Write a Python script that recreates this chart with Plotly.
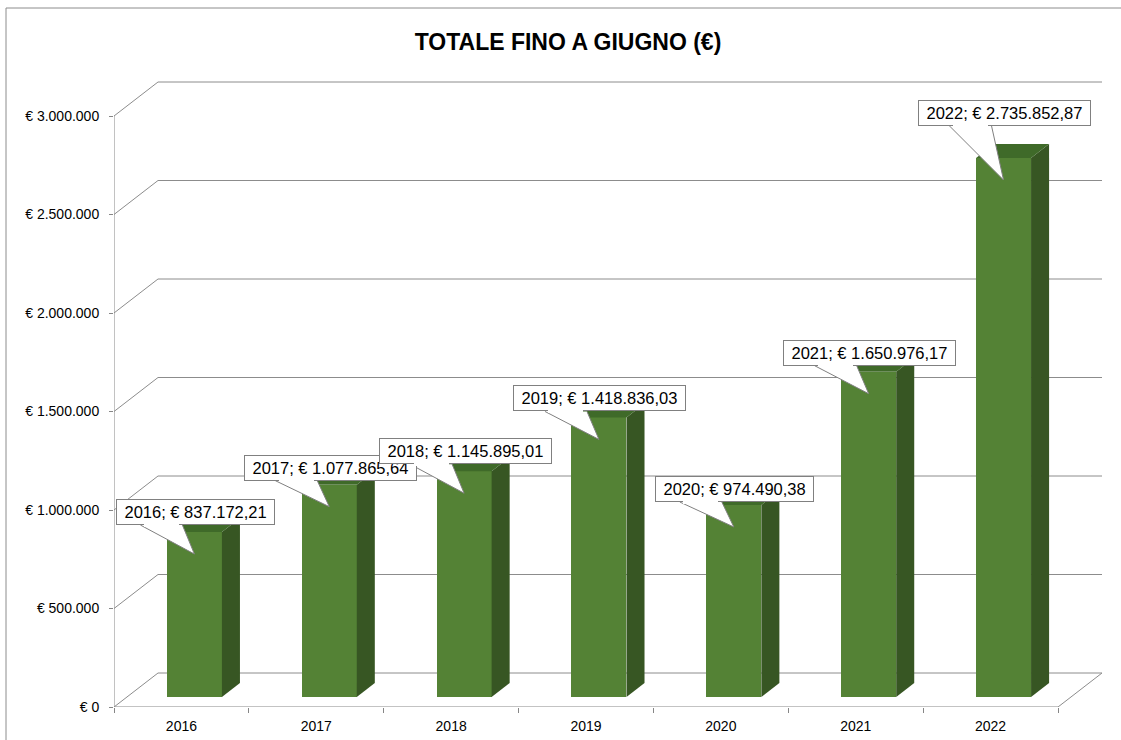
import plotly.graph_objects as go

# ---------------- data ----------------
years = ["2016", "2017", "2018", "2019", "2020", "2021", "2022"]
values = [837172.21, 1077865.64, 1145895.01, 1418836.03, 974490.38, 1650976.17, 2735852.87]
y_ticks = [0, 500000, 1000000, 1500000, 2000000, 2500000, 3000000]
y_tick_labels = ["€ 0", "€ 500.000", "€ 1.000.000", "€ 1.500.000",
                 "€ 2.000.000", "€ 2.500.000", "€ 3.000.000"]
title_text = "TOTALE FINO A GIUGNO (€)"

# ---------------- layout geometry ----------------
W, H = 1121, 740
ML, MR, MT, MB = 114, 11, 78, 33
PW, PH = W - ML - MR, H - MT - MB
n = len(years)
CAT_PX = 944 / n                      # pixels per category
Y_PX = 591 / 3000000                  # pixels per euro
X_RANGE = [-0.5, -0.5 + PW / CAT_PX]
Y_RANGE = [0, PH / Y_PX]
DX = 44 / CAT_PX                      # depth offset (x units)
DY = 34 / Y_PX                        # depth offset (y units)
F0, F1 = 0.295, 0.705                 # bar front/back depth fraction
BAR_W = 55 / CAT_PX

FRONT = "#548235"
SIDE = "#375623"
TOP = "#3f6a29"
GRID = "#8c8c8c"
AXIS = "#868686"
BORDER = "#808080"
FONT = "Liberation Sans"

# callout layout (pixels)
TIP_DROP = 22                          # tip below bar front top
wedge_len = [29, 26, 29, 28, 25, 28, 54]
BOX_H = 26
LABEL_SIZE = 16.5

CHAR_W = {".": 0.278, ",": 0.278, ";": 0.278, " ": 0.278, "€": 0.556}


def it_fmt(v):
    s = f"{v:,.2f}"
    return s.replace(",", "X").replace(".", ",").replace("X", ".")


def text_w(s, size):
    return sum((0.556 if c.isdigit() else CHAR_W.get(c, 0.556)) for c in s) * size


fig = go.Figure()
shapes = []
annotations = []

# back wall gridlines + left wall diagonals
for t in y_ticks:
    shapes.append(dict(type="path", xref="x", yref="y", layer="below",
                       path=f"M {-0.5},{t} L {-0.5 + DX},{t + DY} L {n - 0.5 + DX},{t + DY}",
                       line=dict(color=GRID, width=1)))
# floor right edge
shapes.append(dict(type="line", xref="x", yref="y", layer="below",
                   x0=n - 0.5, y0=0, x1=n - 0.5 + DX, y1=DY,
                   line=dict(color=GRID, width=1)))
# front axis lines
shapes.append(dict(type="line", xref="x", yref="y", layer="below",
                   x0=-0.5, y0=0, x1=-0.5, y1=y_ticks[-1], line=dict(color=AXIS, width=1)))
shapes.append(dict(type="line", xref="x", yref="y", layer="below",
                   x0=-0.5, y0=0, x1=n - 0.5, y1=0, line=dict(color=AXIS, width=1)))

# front faces of bars
xs = [i + F0 * DX for i in range(n)]
fig.add_trace(go.Bar(x=xs, y=values, base=F0 * DY, width=BAR_W,
                     marker=dict(color=FRONT, line=dict(width=0)),
                     hoverinfo="skip", showlegend=False))

ddx = (F1 - F0) * DX
ddy = (F1 - F0) * DY
for i, v in enumerate(values):
    xl = xs[i] - BAR_W / 2
    xr = xs[i] + BAR_W / 2
    b = F0 * DY
    top = b + v
    shapes.append(dict(type="path", xref="x", yref="y", layer="above",
                       path=f"M {xr},{b} L {xr + ddx},{b + ddy} L {xr + ddx},{top + ddy} L {xr},{top} Z",
                       fillcolor=SIDE, line=dict(width=0)))
    shapes.append(dict(type="path", xref="x", yref="y", layer="above",
                       path=f"M {xl},{top} L {xr},{top} L {xr + ddx},{top + ddy} L {xl + ddx},{top + ddy} Z",
                       fillcolor=TOP, line=dict(width=0)))

# callouts: wedge as shapes, box+text as annotations
for i, v in enumerate(values):
    label = f"{years[i]}; € {it_fmt(v)}"
    bw = text_w(label, LABEL_SIZE) + 17
    anchor_x = xs[i]
    anchor_y = F0 * DY + v
    tip = -TIP_DROP
    bb = tip + wedge_len[i]
    common = dict(xref="x", yref="y", xsizemode="pixel", ysizemode="pixel",
                  xanchor=anchor_x, yanchor=anchor_y, layer="above")
    shapes.append(dict(type="path", path=f"M -54,{bb} L 0,{tip} L -12,{bb} Z",
                       fillcolor="white", line=dict(width=0), **common))
    shapes.append(dict(type="path", path=f"M -54,{bb} L 0,{tip} L -12,{bb}",
                       fillcolor="rgba(0,0,0,0)", line=dict(color=BORDER, width=1), **common))
    annotations.append(dict(x=anchor_x, y=anchor_y, xref="x", yref="y", showarrow=False,
                            text=label, xanchor="center", yanchor="bottom",
                            xshift=1, yshift=bb,
                            width=bw - 2, height=BOX_H - 2,
                            bgcolor="white", bordercolor=BORDER, borderwidth=1, borderpad=0,
                            font=dict(family=FONT, size=LABEL_SIZE, color="black")))
    # white patch hiding the box border where the wedge joins it
    annotations.append(dict(x=anchor_x, y=anchor_y, xref="x", yref="y", showarrow=False,
                            text=" ", xanchor="center", yanchor="middle",
                            xshift=-33, yshift=bb,
                            width=35, height=3,
                            bgcolor="white", borderwidth=0, borderpad=0,
                            font=dict(family=FONT, size=1, color="white")))

# outer chart border (left and top)
px2x = lambda px: (px - ML) / PW
py2y = lambda py: (H - MB - py) / PH
shapes.append(dict(type="line", xref="paper", yref="paper", x0=px2x(6), x1=px2x(6),
                   y0=py2y(8), y1=py2y(H + 5), line=dict(color="#8c8c8c", width=1)))
shapes.append(dict(type="line", xref="paper", yref="paper", x0=px2x(6), x1=px2x(W + 5),
                   y0=py2y(8), y1=py2y(8), line=dict(color="#8c8c8c", width=1)))

fig.update_layout(
    width=W, height=H,
    margin=dict(l=ML, r=MR, t=MT, b=MB, pad=0, autoexpand=False),
    paper_bgcolor="white", plot_bgcolor="white",
    font=dict(family=FONT, size=14, color="black"),
    title=dict(text=f"<b>{title_text}</b>", x=568 / W, xref="container", xanchor="center",
               y=1 - 42 / H, yref="container", yanchor="middle",
               font=dict(family=FONT, size=23, color="black")),
    shapes=shapes,
    annotations=annotations,
    bargap=0,
    showlegend=False,
    xaxis=dict(range=X_RANGE, showgrid=False, zeroline=False, showline=False,
               automargin=False,
               tickmode="array", tickvals=list(range(n)), ticktext=years, ticks="",
               ticklabelstandoff=9,
               tickfont=dict(family=FONT, size=14, color="black"),
               minor=dict(tickmode="array", tickvals=[i - 0.5 for i in range(n + 1)],
                          ticks="outside", ticklen=5, tickcolor=AXIS, showgrid=False),
               fixedrange=True),
    yaxis=dict(range=Y_RANGE, showgrid=False, zeroline=False, showline=False,
               automargin=False,
               tickmode="array", tickvals=y_ticks, ticktext=y_tick_labels,
               ticks="outside", ticklen=4, tickcolor=AXIS, ticklabelstandoff=7,
               tickfont=dict(family=FONT, size=14, color="black"),
               fixedrange=True),
)

fig.write_html("out.html", config={"displayModeBar": False},
               post_script="document.body.style.margin='0';document.body.style.overflow='hidden';")
